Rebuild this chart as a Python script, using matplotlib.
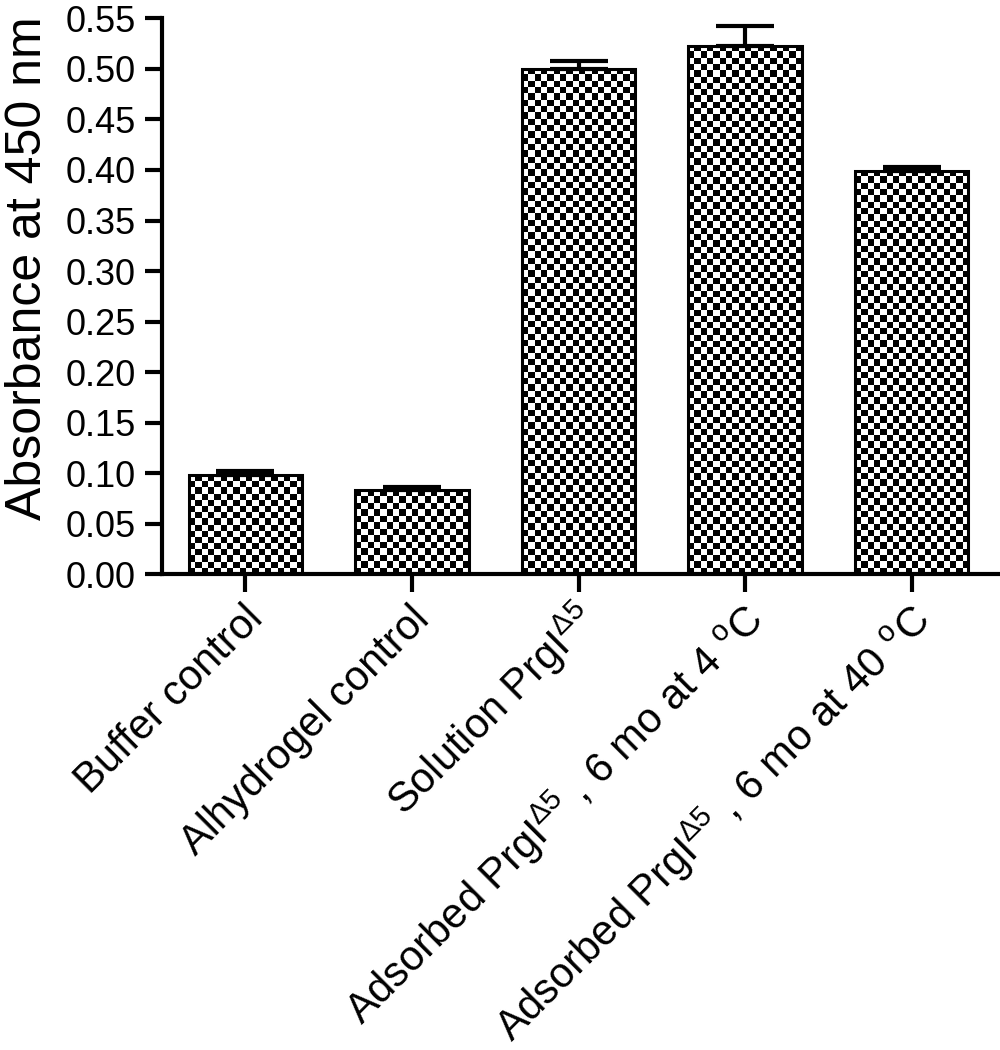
import matplotlib

matplotlib.use("Agg")
import matplotlib.pyplot as plt
import matplotlib.transforms as mtransforms
import numpy as np

plt.rcParams["font.family"] = ["Liberation Sans", "DejaVu Sans"]
plt.rcParams["mathtext.fontset"] = "custom"
plt.rcParams["mathtext.rm"] = "Liberation Sans"
plt.rcParams["mathtext.it"] = "Liberation Sans:italic"

categories = [
    "Buffer control",
    "Alhydrogel control",
    r"Solution PrgI$^{\Delta 5}$",
    r"Adsorbed PrgI$^{\Delta 5}$ , 6 mo at 4 $^{\mathrm{o}}$C",
    r"Adsorbed PrgI$^{\Delta 5}$ , 6 mo at 40 $^{\mathrm{o}}$C",
]
absorbance = [0.098, 0.083, 0.500, 0.523, 0.399]
sem = [0.004, 0.003, 0.008, 0.020, 0.004]
yticks = np.arange(0, 0.551, 0.05)

CELL_PX = 6.3  # checker square size in pixels

fig = plt.figure(figsize=(10, 10.5), dpi=100)
ax = fig.add_axes([0.162, 0.4533, 0.838, 0.5291])

x = np.arange(len(categories))
bars = ax.bar(x, absorbance, width=0.68, facecolor="none",
              edgecolor="black", linewidth=2.2, zorder=3)
ax.errorbar(x, absorbance, yerr=[np.zeros(len(sem)), sem], fmt="none",
            ecolor="black", elinewidth=3, capsize=21, capthick=3, zorder=4)

ax.set_xlim(-0.5, 4.53)
ax.set_ylim(0, 0.55)

# checkerboard fill for every bar, sized to the bar rectangle
for bar in bars:
    x0, w, h = bar.get_x(), bar.get_width(), bar.get_height()
    (px0, py0), (px1, py1) = ax.transData.transform([(x0, 0), (x0 + w, h)])
    ncol = max(1, int(round(abs(px1 - px0) / CELL_PX)))
    nrow = max(1, int(round(abs(py1 - py0) / CELL_PX)))
    board = np.indices((nrow, ncol)).sum(axis=0) % 2
    ax.imshow(board, cmap="gray", interpolation="nearest", aspect="auto",
              extent=[x0, x0 + w, 0, h], origin="lower", zorder=2)

ax.set_xlim(-0.5, 4.53)
ax.set_ylim(0, 0.55)

ax.set_yticks(yticks)
ax.set_yticklabels([f"{v:.2f}" for v in yticks])
ax.set_xticks(x)
ax.set_xticklabels(categories, rotation=45, ha="right", va="center",
                   rotation_mode="anchor", fontsize=30)
ax.tick_params(axis="y", labelsize=26, length=12, width=3, pad=7)
ax.tick_params(axis="x", length=13, width=3, pad=15)
ax.set_ylabel("Absorbance at 450 nm", fontsize=36)
ax.yaxis.set_label_coords(-0.132, 0.55)

# nudge rotated labels a little right, like the original
shift = mtransforms.ScaledTranslation(8 / 72, 0, fig.dpi_scale_trans)
for lbl in ax.get_xticklabels():
    lbl.set_transform(lbl.get_transform() + shift)

for side in ("top", "right"):
    ax.spines[side].set_visible(False)
for side in ("left", "bottom"):
    ax.spines[side].set_linewidth(3)

fig.savefig("out.png", dpi=100)
